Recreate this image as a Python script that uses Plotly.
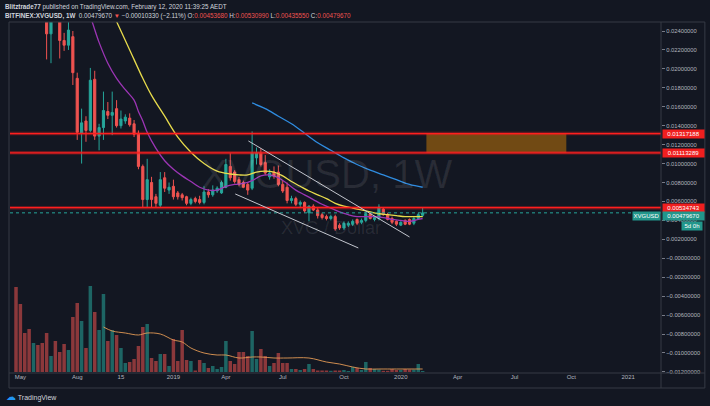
import numpy as np
import pandas as pd
import plotly.graph_objects as go

# BITFINEX:XVGUSD weekly candles, Apr 30 2018 .. Feb 10 2020
dates = pd.date_range("2018-04-30", periods=94, freq="7D")

opens = [0.0760, 0.0630, 0.0545, 0.0490, 0.0415, 0.0440, 0.0392, 0.0318, 0.0237, 0.0272,
         0.0262, 0.0230, 0.0225, 0.0234, 0.0190, 0.0132, 0.0145, 0.0135, 0.0189, 0.0129,
         0.0138, 0.0155, 0.0151, 0.0158, 0.0140, 0.0145, 0.0148, 0.0142, 0.0132, 0.0097,
         0.0062, 0.0080, 0.0065, 0.0056, 0.0085, 0.0072, 0.0076, 0.0069, 0.0067, 0.0065,
         0.0058, 0.0063, 0.0062, 0.0059, 0.0070, 0.0067, 0.0071, 0.0069, 0.0075, 0.0097,
         0.0091, 0.0083, 0.0080, 0.0078, 0.0074, 0.0106, 0.0111, 0.0101, 0.0086, 0.0091,
         0.0091, 0.0078, 0.0075, 0.0061, 0.0063, 0.0057, 0.0059, 0.0048, 0.0055, 0.0051,
         0.0046, 0.0044, 0.0042, 0.0044, 0.0035, 0.0032, 0.0035, 0.0036, 0.0041, 0.0038,
         0.0040, 0.0047, 0.0041, 0.0042, 0.0052, 0.0046, 0.0042, 0.0039, 0.0035, 0.0040,
         0.0041, 0.0037, 0.0042, 0.0045368]
highs = [0.0820, 0.0660, 0.0570, 0.0505, 0.0470, 0.0455, 0.0400, 0.0330, 0.0290, 0.0285,
         0.0268, 0.0238, 0.0262, 0.0240, 0.0196, 0.0158, 0.0150, 0.0201, 0.0198, 0.0142,
         0.0176, 0.0165, 0.0176, 0.0167, 0.0156, 0.0152, 0.0153, 0.0146, 0.0135, 0.0099,
         0.0105, 0.0086, 0.0068, 0.0091, 0.0091, 0.0080, 0.0083, 0.0071, 0.0069, 0.0066,
         0.0064, 0.0065, 0.0066, 0.0076, 0.0073, 0.0077, 0.0076, 0.0082, 0.0105, 0.0111,
         0.0093, 0.0086, 0.0082, 0.0080, 0.0134, 0.0117, 0.0116, 0.0109, 0.0094, 0.0097,
         0.0098, 0.0082, 0.0080, 0.0066, 0.0065, 0.0061, 0.0060, 0.0056, 0.0057, 0.0053,
         0.0048, 0.0046, 0.0046, 0.0046, 0.0037, 0.0039, 0.0039, 0.0041, 0.0042, 0.0042,
         0.0049, 0.0049, 0.0045, 0.0057, 0.0054, 0.0048, 0.0044, 0.0040, 0.0039, 0.0041,
         0.0042, 0.0044, 0.0048, 0.0053099]
lows = [0.0610, 0.0520, 0.0470, 0.0400, 0.0405, 0.0380, 0.0300, 0.0210, 0.0206, 0.0252,
        0.0211, 0.0219, 0.0220, 0.0183, 0.0125, 0.0100, 0.0123, 0.0133, 0.0125, 0.0114,
        0.0125, 0.0147, 0.0130, 0.0138, 0.0137, 0.0142, 0.0139, 0.0128, 0.0094, 0.0054,
        0.0054, 0.0054, 0.0054, 0.0054, 0.0070, 0.0068, 0.0062, 0.0062, 0.0061, 0.0056,
        0.0056, 0.0058, 0.0057, 0.0057, 0.0064, 0.0065, 0.0069, 0.0068, 0.0074, 0.0082,
        0.0079, 0.0076, 0.0074, 0.0067, 0.0072, 0.0099, 0.0097, 0.0088, 0.0083, 0.0084,
        0.0076, 0.0069, 0.0058, 0.0058, 0.0055, 0.0054, 0.0048, 0.0039, 0.0050, 0.0042,
        0.0041, 0.0040, 0.0040, 0.0029, 0.0030, 0.0030, 0.0033, 0.0034, 0.0035, 0.0036,
        0.0038, 0.0041, 0.0039, 0.0040, 0.0045, 0.0040, 0.0036, 0.0034, 0.0034, 0.0035,
        0.0035, 0.0035, 0.0041, 0.0043555]
closes = [0.0630, 0.0545, 0.0490, 0.0415, 0.0440, 0.0392, 0.0318, 0.0237, 0.0272, 0.0262,
          0.0230, 0.0225, 0.0241, 0.0196, 0.0133, 0.0143, 0.0135, 0.0188, 0.0129, 0.0138,
          0.0156, 0.0151, 0.0154, 0.0140, 0.0147, 0.0149, 0.0141, 0.0131, 0.0097, 0.0062,
          0.0083, 0.0062, 0.0058, 0.0083, 0.0074, 0.0075, 0.0065, 0.0065, 0.0064, 0.0058,
          0.0062, 0.0060, 0.0059, 0.0070, 0.0067, 0.0072, 0.0074, 0.0080, 0.0099, 0.0085,
          0.0081, 0.0078, 0.0075, 0.0072, 0.0111, 0.0111, 0.0099, 0.0090, 0.0090, 0.0087,
          0.0078, 0.0071, 0.0061, 0.0063, 0.0057, 0.0059, 0.0050, 0.0055, 0.0051, 0.0045,
          0.0043, 0.0042, 0.0044, 0.0031, 0.0032, 0.0037, 0.0037, 0.0039, 0.0037, 0.0040,
          0.0047, 0.0042, 0.0043, 0.0054, 0.0046, 0.0041, 0.0038, 0.0036, 0.0038, 0.0036,
          0.0036, 0.0042, 0.0046, 0.0047967]
# volume in millions XVG (relative)
volume = [85, 68, 39, 43, 29, 27, 29, 39, 16, 31, 20, 28, 22, 55, 69, 51, 24, 86, 60, 42,
          78, 31, 42, 37, 24, 9, 10, 13, 26, 45, 48, 14, 11, 18, 18, 6, 33, 11, 42, 12,
          11, 1.5, 12, 9, 4, 6, 3, 5, 31, 11, 8, 20, 20, 16, 41, 13, 23, 16, 6, 9,
          19, 9, 9, 3, 3, 2, 3, 8, 3, 1.5, 1.5, 1.5, 1.2, 1.5, 1.5, 2, 1, 5, 4, 2,
          10, 4, 3, 2.5, 1.2, 1.2, 3, 2, 2, 3, 2.5, 2.5, 8, 1]

# moving averages (week index -> value)
yellow_wk = [21, 23, 26, 29, 31, 34, 37, 40, 43, 46, 49, 51, 53, 55, 57, 59, 61, 63, 65, 67,
             69, 71, 73, 75, 77, 79, 81, 83, 85, 87, 89, 91, 93]
yellow_ma = [0.0270, 0.0250, 0.0220, 0.0190, 0.0172, 0.0150, 0.0128, 0.0112, 0.0100, 0.0092,
             0.0089, 0.0088, 0.0088, 0.0091, 0.0092, 0.0091, 0.0087, 0.0081, 0.0076, 0.0071,
             0.0067, 0.0063, 0.0058, 0.0055, 0.0053, 0.0051, 0.0049, 0.0047, 0.0046, 0.0045,
             0.0044, 0.0044, 0.0044]
purple_wk = [16, 17, 19, 21, 23, 25, 27, 28, 29, 30, 32, 34, 36, 38, 40, 42, 44, 46, 48, 50,
             52, 54, 56, 58, 60, 62, 64, 66, 68, 70, 72, 74, 76, 78, 80, 82, 84, 86, 88, 90,
             92, 93]
purple_ma = [0.0265, 0.0255, 0.0228, 0.0206, 0.0190, 0.0178, 0.0167, 0.0155, 0.0145, 0.0133,
             0.0116, 0.0103, 0.0094, 0.0087, 0.0081, 0.0075, 0.0072, 0.0072, 0.0076, 0.0078,
             0.0079, 0.0082, 0.0087, 0.0088, 0.0085, 0.0079, 0.0072, 0.0067, 0.0062, 0.0057,
             0.0053, 0.0049, 0.0046, 0.0044, 0.0044, 0.0044, 0.0043, 0.0041, 0.0040, 0.0039,
             0.0041, 0.0042]
blue_wk = [54, 57, 60, 63, 66, 69, 72, 75, 78, 81, 84, 87, 90, 93]
blue_ma = [0.0164, 0.0158, 0.0150, 0.0142, 0.0132, 0.0122, 0.0114, 0.0106, 0.0099, 0.0093,
           0.0088, 0.0083, 0.0078, 0.0075]
volma_wk = [20, 22, 25, 28, 30, 33, 36, 38, 40, 43, 46, 48, 51, 54, 56, 59, 62, 67, 71, 74,
            77, 80, 83, 87, 93]
volma = [45, 41, 39, 37, 39, 38, 32, 30, 24, 19, 17, 17, 14, 15, 15, 14, 14, 14, 10, 8,
         5, 3, 3, 3, 3]

levels = [0.01317188, 0.01113289, 0.00534743]
last_price = 0.0047967
chan_upper_x = ["2019-05-07", "2020-01-20"]
chan_upper_y = [0.01239, 0.00225]
chan_lower_x = ["2019-04-16", "2019-10-30"]
chan_lower_y = [0.00679, 0.00109]
zone_x = ["2020-02-16", "2020-09-27"]

tick_dates = ["2018-05-07", "2018-08-06", "2018-10-15", "2019-01-07", "2019-04-01", "2019-07-01",
              "2019-10-07", "2020-01-06", "2020-04-06", "2020-07-06", "2020-10-05", "2021-01-04"]
tick_text = ["May", "Aug", "15", "2019", "Apr", "Jul", "Oct", "2020", "Apr", "Jul", "Oct", "2021"]

price_ticks = [round(v, 3) for v in np.arange(-0.012, 0.0245, 0.002)]
price_text = [("\u2212" + f"{abs(v):.8f}") if v <= 0 else f"{v:.8f}" for v in price_ticks]

BG = "#131722"
UP = "#26a69a"
DOWN = "#ef5350"
FRAME = "#363a45"
TXT = "#b2b5be"
FONT = "Liberation Sans, Arial, sans-serif"

vol_colors = ["rgba(38,166,154,0.55)" if c >= o else "rgba(239,83,80,0.55)"
              for o, c in zip(opens, closes)]

fig = go.Figure()

fig.add_trace(go.Bar(x=dates, y=volume, marker=dict(color=vol_colors, line=dict(width=0)),
                     yaxis="y2", showlegend=False, hoverinfo="skip"))
fig.add_trace(go.Scatter(x=dates[volma_wk], y=volma, yaxis="y2", mode="lines",
                         line=dict(color="#e39a55", width=0.9, shape="spline"),
                         showlegend=False, hoverinfo="skip"))

fig.add_trace(go.Candlestick(
    x=dates, open=opens, high=highs, low=lows, close=closes,
    increasing=dict(line=dict(color=UP, width=1), fillcolor=UP),
    decreasing=dict(line=dict(color=DOWN, width=1), fillcolor=DOWN),
    whiskerwidth=0, showlegend=False))

for wk, vals, col in [(purple_wk, purple_ma, "#9c35b5"),
                      (yellow_wk, yellow_ma, "#e8dc4c"),
                      (blue_wk, blue_ma, "#2f8ce0")]:
    fig.add_trace(go.Scatter(x=dates[wk], y=vals, mode="lines",
                             line=dict(color=col, width=1.3, shape="spline"),
                             showlegend=False, hoverinfo="skip"))

shapes = []
# resistance zone
shapes.append(dict(type="rect", xref="x", yref="y", x0=zone_x[0], x1=zone_x[1],
                   y0=levels[1], y1=levels[0], fillcolor="rgba(255,152,0,0.40)",
                   line=dict(width=0), layer="above"))
# horizontal levels with a soft glow
for lv in levels:
    shapes.append(dict(type="line", xref="paper", yref="y", x0=0, x1=1, y0=lv, y1=lv,
                       line=dict(color="rgba(255,30,30,0.35)", width=3.5)))
    shapes.append(dict(type="line", xref="paper", yref="y", x0=0, x1=1, y0=lv, y1=lv,
                       line=dict(color="#ff1f1f", width=1.3)))
# last price line
shapes.append(dict(type="line", xref="paper", yref="y", x0=0, x1=1, y0=last_price,
                   y1=last_price, line=dict(color=UP, width=1, dash="dot")))
# falling channel
for cx, cy in [(chan_upper_x, chan_upper_y), (chan_lower_x, chan_lower_y)]:
    shapes.append(dict(type="line", xref="x", yref="y", x0=cx[0], x1=cx[1], y0=cy[0], y1=cy[1],
                       line=dict(color="#c3c6ce", width=1)))
# pane frame
W, H = 653.0, 350.0
px = lambda p: (p - 10) / W
py = lambda p: (372 - p) / H
for x0, y0, x1, y1 in [(9, 22, 707, 22), (9, 388, 707, 388), (9, 22, 9, 388),
                       (707, 22, 707, 388), (663, 22, 663, 388), (9, 373, 707, 373)]:
    shapes.append(dict(type="line", xref="paper", yref="paper", x0=px(x0), x1=px(x1),
                       y0=py(y0), y1=py(y1), line=dict(color=FRAME, width=1)))

ann = []
red_hdr = "<span style='color:#ef5350'>%s</span>"
ann.append(dict(xref="paper", yref="paper", x=px(3), y=py(7), xanchor="left", yanchor="middle",
                showarrow=False, font=dict(family=FONT, size=6.3, color="#d1d4dc"),
                text="<b>Blitztrade77</b> published on TradingView.com, February 12, 2020 11:39:25 AEDT"))
ann.append(dict(xref="paper", yref="paper", x=px(3), y=py(15.5), xanchor="left", yanchor="middle",
                showarrow=False, font=dict(family=FONT, size=6.3, color="#d1d4dc"),
                text="<b>BITFINEX:XVGUSD, 1W</b>  0.00479670 " + red_hdr % "\u25bc"
                     + " \u22120.00010330 (\u22122.11%) O:" + red_hdr % "0.00453680"
                     + " H:" + red_hdr % "0.00530990" + " L:" + red_hdr % "0.00435550"
                     + " C:" + red_hdr % "0.00479670"))
# watermark
ann.append(dict(xref="paper", yref="paper", x=px(327), y=py(174), showarrow=False,
                text="XVGUSD, 1W", font=dict(family=FONT, size=40, color="rgba(255,255,255,0.09)")))
ann.append(dict(xref="paper", yref="paper", x=px(332), y=py(228), showarrow=False,
                text="XVG / Dollar", font=dict(family=FONT, size=18, color="rgba(255,255,255,0.09)")))
# price tags on the scale
for lv in levels:
    ann.append(dict(xref="paper", yref="y", x=1, y=lv, xanchor="left", xshift=1, showarrow=False,
                    text=f"{lv:.8f}", bgcolor="#f01f1f", width=40, height=7, borderpad=0.5,
                    font=dict(family=FONT, size=6, color="white")))
ann.append(dict(xref="paper", yref="y", x=1, y=last_price, yshift=-3.5, xanchor="left", xshift=1,
                showarrow=False, text=f"{last_price:.8f}", bgcolor="#22968b", width=40, height=7,
                borderpad=0.5, font=dict(family=FONT, size=6, color="white")))
ann.append(dict(xref="paper", yref="y", x=1, y=last_price, yshift=-3.5, xanchor="right", xshift=0,
                showarrow=False, text="XVGUSD", bgcolor="#22968b", width=26, height=7,
                borderpad=0.5, font=dict(family=FONT, size=6, color="white")))
ann.append(dict(xref="paper", yref="y", x=1, y=last_price, yshift=-13, xanchor="left", xshift=20,
                showarrow=False, text="5d 0h", bgcolor="#22968b", width=19, height=7,
                borderpad=0.5, font=dict(family=FONT, size=6, color="white")))
# footer logo
ann.append(dict(xref="paper", yref="paper", x=px(4), y=py(396), xanchor="left", yanchor="middle",
                showarrow=False, font=dict(family=FONT, size=7, color="#d1d4dc"),
                text="<span style='color:#2196f3;font-size:10px'>\u2601</span> TradingView"))

fig.update_layout(
    width=710, height=406,
    margin=dict(l=10, r=47, t=22, b=34),
    paper_bgcolor=BG, plot_bgcolor=BG,
    font=dict(family=FONT, size=6, color=TXT),
    bargap=0.2,
    showlegend=False,
    shapes=shapes,
    annotations=ann,
    xaxis=dict(type="date", range=["2018-04-20 09:00", "2021-02-25 14:00"],
               tickvals=tick_dates, ticktext=tick_text, showgrid=False, zeroline=False,
               showline=False, ticks="", tickfont=dict(size=6, color=TXT),
               rangeslider=dict(visible=False)),
    yaxis=dict(side="right", range=[-0.01201, 0.02495], tickvals=price_ticks,
               ticktext=price_text, showgrid=False, zeroline=False, showline=False,
               ticks="outside", ticklen=3, tickcolor="#787b86",
               tickfont=dict(size=5.8, color=TXT)),
    yaxis2=dict(overlaying="y", range=[0, 350], visible=False),
)

# the page's default body margin would push the 710x406 figure off the window
fig.write_html("out.html", config={"displayModeBar": False},
               post_script="document.body.style.margin='0';document.body.style.background='#131722';")
